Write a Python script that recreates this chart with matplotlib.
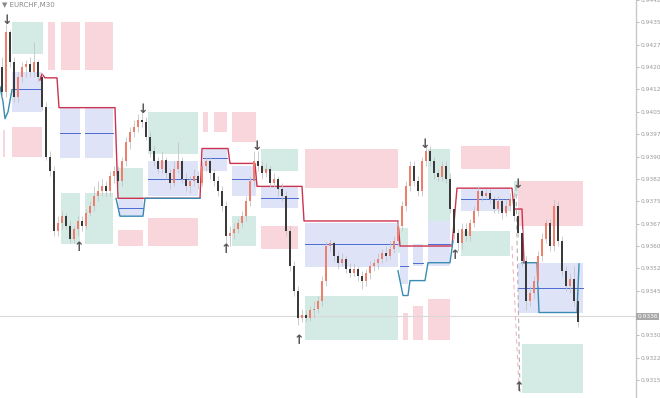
import numpy as np
import matplotlib
matplotlib.use("Agg")
import matplotlib.pyplot as plt

# ---- data (prices in points = price * 1e5) ----
first_open = 94200
close_pts = [94117,94317,94217,94100,94167,94200,94210,94183,94217,94167,
             94067,93900,93850,93650,93677,93700,93667,93624,93657,93684,
             93667,93710,93734,93767,93784,93800,93784,93834,93850,93817,
             93884,93950,93984,94000,94024,94017,93967,93917,93884,93857,
             93890,93844,93810,93857,93884,93824,93800,93817,93834,93810,
             93867,93884,93844,93817,93784,93734,93634,93644,93657,93677,
             93700,93750,93817,93884,93867,93844,93857,93810,93824,93790,
             93767,93650,93534,93450,93357,93367,93357,93384,93390,93417,
             93484,93600,93610,93567,93544,93557,93524,93510,93524,93500,
             93484,93510,93534,93544,93557,93577,93567,93590,93617,93667,
             93734,93800,93867,93817,93784,93884,93917,93884,93844,93830,
             93867,93824,93724,93644,93610,93657,93634,93677,93717,93784,
             93767,93777,93757,93724,93750,93710,93734,93757,93700,93644,
             93550,93417,93444,93484,93567,93624,93677,93600,93734,93617,
             93517,93467,93490,93417,93344]
high_pts = [94234,94344,94324,94234,94184,94217,94224,94234,94284,94224,
            94177,94084,93917,93867,93700,93717,93710,93684,93667,93700,
            93700,93724,93750,93800,93817,93824,93817,93850,93867,93867,
            93900,93967,94000,94024,94044,94050,94034,93984,93934,93900,
            93917,93900,93857,93884,93950,93900,93844,93834,93857,93850,
            93884,93900,93900,93857,93834,93800,93750,93667,93677,93690,
            93717,93767,93834,93917,93917,93884,93877,93867,93844,93834,
            93810,93784,93667,93550,93467,93390,93384,93400,93417,93434,
            93500,93617,93624,93617,93584,93577,93567,93544,93544,93534,
            93517,93524,93550,93557,93577,93590,93600,93617,93634,93684,
            93750,93817,93884,93884,93834,93900,93934,93934,93900,93857,
            93884,93884,93844,93734,93657,93677,93677,93690,93734,93800,
            93790,93790,93790,93767,93767,93757,93757,93777,93777,93717,
            93657,93567,93467,93500,93584,93644,93690,93690,93757,93750,
            93634,93534,93510,93534,93434]
low_pts = [94100,94100,94200,94084,94084,94150,94167,94167,94167,94150,
           94057,93890,93834,93634,93634,93657,93657,93610,93610,93634,
           93650,93657,93700,93717,93750,93767,93767,93767,93810,93784,
           93800,93867,93924,93967,93984,94000,93957,93900,93867,93844,
           93844,93824,93790,93800,93844,93810,93784,93777,93800,93790,
           93800,93850,93824,93800,93767,93717,93590,93600,93624,93644,
           93664,93684,93734,93800,93850,93824,93830,93797,93797,93767,
           93750,93634,93517,93434,93334,93344,93344,93350,93357,93377,
           93400,93467,93584,93550,93524,93534,93510,93497,93500,93484,
           93457,93467,93490,93517,93524,93544,93550,93557,93577,93600,
           93650,93717,93784,93800,93767,93767,93867,93867,93824,93817,
           93817,93810,93710,93624,93584,93590,93617,93617,93664,93700,
           93750,93757,93744,93710,93710,93690,93700,93717,93684,93630,
           93534,93384,93400,93424,93467,93550,93610,93584,93584,93600,
           93500,93450,93444,93400,93330]

# zones: start bar, end bar, top price, bottom price, kind
zone_x0 = [2.5,14.75,20.75,29,36.5,57.5,64.75,75.75,106.5,114.75,130,128,99,
           11.5,14.75,20.75,2.5,0.25,29,36.5,50.25,53,57.5,64.75,75.75,100.25,102.75,106.5,114.75,129,
           2.5,14.5,20.75,29,36.5,50.25,57.5,64.75,75.75,99.5,102.75,106.5,114.75,129]
zone_x1 = [10.25,19.5,27.75,35.25,49,63.5,74,99,112,127,145.25,129.5,101.5,
           13.25,19.5,27.75,10,0.75,35.25,49,51.5,56.25,63.5,74,99,101.5,105.25,112,127,145.25,
           10,19.5,27.75,35.25,49,56.25,63.5,74,99,101.5,105.25,112,127,145.25]
zone_top = [94350,93777,93777,93860,94050,93700,93927,93434,93927,93650,93270,93817,93660,
            94350,94350,94350,94000,93990,93654,93694,94050,94050,94050,93667,93927,93374,93400,93424,93934,93817,
            94184,94067,94067,93760,93884,93924,93867,93800,93677,93600,93607,93684,93790,93544]
zone_bot = [94244,93607,93607,93750,93907,93600,93850,93284,93677,93567,93107,93767,93577,
            94190,94190,94190,93900,93900,93600,93600,93984,93984,93950,93590,93794,93284,93284,93284,93857,93667,
            94050,93894,93894,93700,93767,93850,93767,93727,93530,93474,93534,93534,93717,93374]
zone_kind = ["g"] * 13 + ["p"] * 17 + ["b"] * 14
blue_mid = [94127,93980,93980,93727,93824,93894,93824,93760,93607,93534,93544,93607,93757,93460]

# channel lines: (bar, price)
upper_x = [9.5,10,10.75,13.75,14.25,28.25,29,49.5,50,56.5,57,63.25,63.75,75,75.5,99,99.5,112.5,113.75,127.5,128,130,130.5]
upper_y = [94157,94177,94164,94164,94064,94064,93760,93760,93927,93927,93877,93877,93800,93800,93684,93684,93600,93600,93794,93794,93724,93724,93544]
lower_x = [-0.5,0.25,0.75,1.5,2.5,
           28.5,29.5,35.25,35.75,49.5,
           99,100.25,101.5,102,105.75,106.5,112,112.75,
           130,133.75,134.25,143.75,144.25]
lower_y = [94134,94084,94027,94050,94124,
           93760,93700,93700,93760,93760,
           93517,93434,93434,93484,93484,93544,93544,93617,
           93544,93544,93377,93377,93540]

down_arrow_x = [1.25,35.25,63.75,105.75,129]
down_arrow_y = [94357,94057,93934,93940,93807]
up_arrow_x = [19.25,56,74.25,113.25,129.25]
up_arrow_y = [93594,93587,93284,93567,93125]

current_price = 93364
tick_start, tick_step, n_ticks = 93150, 75, 18

# ---- figure ----
W, H = 660, 398
fig = plt.figure(figsize=(W / 100, H / 100), dpi=100)
ax = fig.add_axes([0, 0, 636 / W, 1])
ax.set_xlim(-0.5, -0.5 + 636 / 4)
ax.set_ylim(94417 - 398 * 10 / 3, 94417)

zcol = {"g": "#d4ebe5", "p": "#f8d6dc", "b": "#dfe3f8"}
for x0, x1, t, b, k in zip(zone_x0, zone_x1, zone_top, zone_bot, zone_kind):
    ax.fill_between([x0, x1], b, t, color=zcol[k], lw=0, zorder=1)
bi = [i for i, k in enumerate(zone_kind) if k == "b"]
for j, i in enumerate(bi):
    ax.plot([zone_x0[i], zone_x1[i]], [blue_mid[j]] * 2, color="#4a6bd0", lw=0.7, zorder=2)

ax.plot(upper_x, upper_y, color="#cc3350", lw=1.0, zorder=3)
ax.plot(lower_x[:5], lower_y[:5], color="#3a8bb0", lw=1.0, zorder=3)
ax.plot(lower_x[5:10], lower_y[5:10], color="#3a8bb0", lw=1.0, zorder=3)
ax.plot(lower_x[10:18], lower_y[10:18], color="#3a8bb0", lw=1.0, zorder=3)
ax.plot(lower_x[18:], lower_y[18:], color="#3a8bb0", lw=1.0, zorder=3)

# dashed guide lines
ax.plot([128.5, 129.5], [93800, 93110], color="#b0b0b0", lw=0.8, ls=(0, (4, 3)), zorder=3)
ax.plot([127.5, 129.3], [93600, 93110], color="#f0b8c0", lw=0.8, ls=(0, (4, 3)), zorder=3)

# current price line
ax.axhline(current_price, color="#d8d8d8", lw=0.8, zorder=2)

closes = np.array(close_pts, dtype=float)
highs = np.array(high_pts, dtype=float)
lows = np.array(low_pts, dtype=float)
opens = np.concatenate([[first_open], closes[:-1]])
xs = np.arange(len(closes))
ax.vlines(xs, lows, highs, color="#c4c4c4", lw=0.6, zorder=4)
up = closes >= opens
body_b = np.minimum(opens, closes)
body_h = np.maximum(np.abs(closes - opens), 3)
ax.bar(xs[up], body_h[up], bottom=body_b[up], width=0.6, color="#ee7f6d", lw=0, zorder=5)
ax.bar(xs[~up], body_h[~up], bottom=body_b[~up], width=0.6, color="#3a3a3a", lw=0, zorder=5)

for x, y in zip(down_arrow_x, down_arrow_y):
    ax.text(x, y, "↓", ha="center", va="center", fontsize=9, fontweight="bold", color="#555555", zorder=6)
for x, y in zip(up_arrow_x, up_arrow_y):
    ax.text(x, y, "↑", ha="center", va="center", fontsize=9, fontweight="bold", color="#555555", zorder=6)

ax.text(2 / 636, 1 - 5 / 398, "▼ EURCHF,M30", transform=ax.transAxes, fontsize=5,
        color="#888888", va="center", ha="left")

# axes styling
for s in ["top", "left", "bottom"]:
    ax.spines[s].set_visible(False)
ax.spines["right"].set_color("#c8c8c8")
ax.spines["right"].set_linewidth(1.0)
ax.set_xticks([])
ax.yaxis.tick_right()
ticks = [tick_start + k * tick_step for k in range(n_ticks)]
ax.set_yticks(ticks)
labels = []
for t in ticks:
    # the current-price box replaces the label that it covers
    labels.append("" if abs(t - current_price) < 40 else f"{t / 1e5:.5f}"[:6])
ax.set_yticklabels(labels)
ax.tick_params(axis="y", length=2, width=0.6, color="#b0b0b0", labelsize=4.2,
               labelcolor="#9a9a9a", pad=1)

ax.text(1.002, current_price, f"{current_price / 1e5:.5f}"[:6], transform=ax.get_yaxis_transform(),
        fontsize=4.2, color="#ffffff", va="center", ha="left", zorder=10,
        bbox=dict(boxstyle="square,pad=0.2", facecolor="#a8a8a8", edgecolor="none"),
        clip_on=False)

fig.savefig("out.png", dpi=100)
